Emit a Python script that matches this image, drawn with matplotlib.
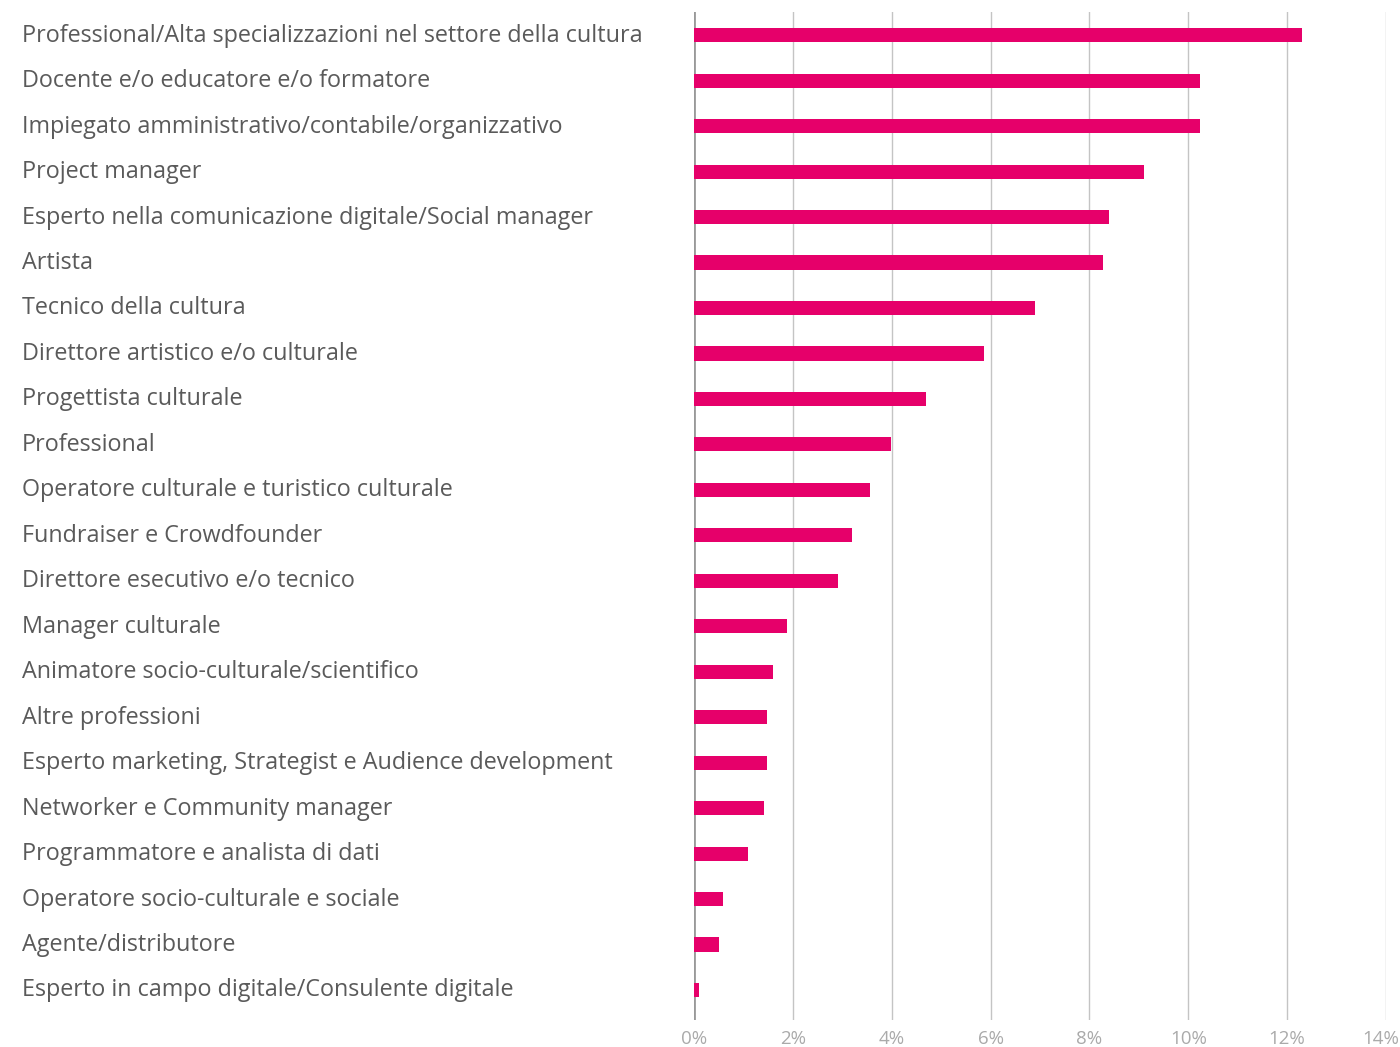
import matplotlib
matplotlib.use("Agg")
import matplotlib.pyplot as plt
from matplotlib.transforms import blended_transform_factory, ScaledTranslation

categories = [
    "Professional/Alta specializzazioni nel settore della cultura",
    "Docente e/o educatore e/o formatore",
    "Impiegato amministrativo/contabile/organizzativo",
    "Project manager",
    "Esperto nella comunicazione digitale/Social manager",
    "Artista",
    "Tecnico della cultura",
    "Direttore artistico e/o culturale",
    "Progettista culturale",
    "Professional",
    "Operatore culturale e turistico culturale",
    "Fundraiser e Crowdfounder",
    "Direttore esecutivo e/o tecnico",
    "Manager culturale",
    "Animatore socio-culturale/scientifico",
    "Altre professioni",
    "Esperto marketing, Strategist e Audience development",
    "Networker e Community manager",
    "Programmatore e analista di dati",
    "Operatore socio-culturale e sociale",
    "Agente/distributore",
    "Esperto in campo digitale/Consulente digitale",
]
values = [12.3, 10.24, 10.24, 9.11, 8.4, 8.28, 6.9, 5.86, 4.7, 3.98, 3.56,
          3.2, 2.92, 1.88, 1.60, 1.47, 1.47, 1.41, 1.09, 0.58, 0.50, 0.10]
xticks = [0, 2, 4, 6, 8, 10, 12, 14]
xticklabels = ["0%", "2%", "4%", "6%", "8%", "10%", "12%", "14%"]

plt.rcParams['font.family'] = ['Open Sans', 'DejaVu Sans']

fig = plt.figure(figsize=(14, 10.47), dpi=100)
W, H = 1400, 1047
ax = fig.add_axes([694 / W, 1 - 1020 / H, (1386 - 694) / W, (1020 - 12) / H])

n = len(categories)
ypos = list(range(n))
ax.barh(ypos, values, height=0.31, color="#E6006A", zorder=3)

ax.set_xlim(0, 14)
ax.set_ylim(n - 1 + 0.66, -0.51)
ax.set_xticks(xticks)
ax.set_xticklabels(xticklabels, color="#aaaaaa", fontsize=13.5)
ax.tick_params(axis='x', length=0, pad=7)
last = ax.get_xticklabels()[-1]
last.set_transform(last.get_transform() + ScaledTranslation(-5 / 100, 0, fig.dpi_scale_trans))
ax.set_yticks([])
for x in xticks:
    ax.axvline(x, color="#999999" if x == 0 else "#c4c4c4",
               lw=2.0 if x == 0 else 1.0, zorder=1)
for s in ax.spines.values():
    s.set_visible(False)

trans = blended_transform_factory(fig.transFigure, ax.transData)
for i, c in enumerate(categories):
    ax.text(22 / W, i + 0.01, c, transform=trans, ha='left', va='center',
            fontsize=16.8, color="#5a5a5a")

fig.savefig("out.png", dpi=100)
